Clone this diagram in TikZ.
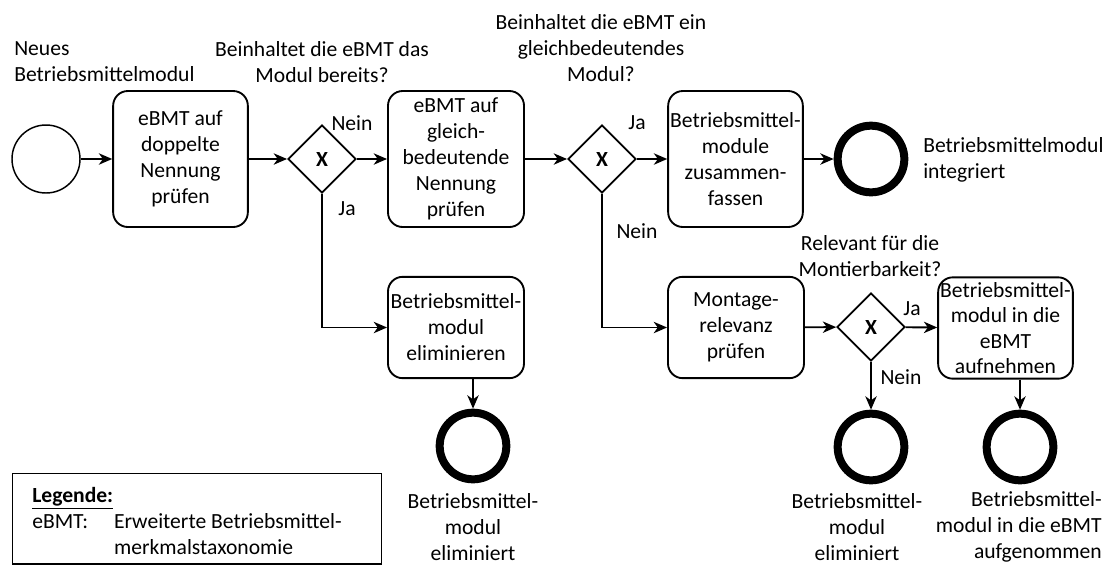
\documentclass[tikz,border=0pt]{standalone}
\usepackage{fontspec}
\setmainfont{Carlito}
\usetikzlibrary{shapes.geometric,arrows.meta}
\begin{document}
\begin{tikzpicture}[x=0.75pt,y=-0.75pt,
  every node/.style={font=\fontsize{16.2}{19.5}\selectfont},
  task/.style={draw,rounded corners=11pt,line width=1.4pt,align=center,inner sep=0pt},
  gate/.style={draw,diamond,line width=1.4pt,inner sep=0pt,minimum width=51pt,minimum height=51pt,font=\fontsize{16.2}{19.5}\selectfont\bfseries},
  startev/.style={draw,circle,line width=1.1pt,minimum size=51pt,inner sep=0pt},
  endev/.style={draw,circle,line width=6pt,minimum size=50pt,inner sep=0pt},
  flow/.style={line width=1.4pt,-{Stealth[length=10pt,width=8.5pt,inset=3pt]}},
  txt/.style={inner sep=0pt,align=center}]
\useasboundingbox (0,0) rectangle (1110,565);

% events, tasks and gateways
\node[startev] (start) at (46,159) {};
\node[task,minimum width=101pt,minimum height=102pt] (t1) at (180.5,159) {eBMT auf\\doppelte\\Nennung\\prüfen};
\node[gate] (g1) at (322,159) {X};
\node[task,minimum width=102pt,minimum height=102pt] (t2) at (456,159) {eBMT auf\\gleich-\\bedeutende\\Nennung\\prüfen};
\node[gate] (g2) at (602,159) {X};
\node[task,minimum width=101pt,minimum height=102pt] (t3) at (735.5,159) {Betriebsmittel-\\module\\zusammen-\\fassen};
\node[endev] (e1) at (871,159) {};

\node[task,minimum width=102pt,minimum height=76pt] (t4) at (456,327.5) {Betriebsmittel-\\modul\\eliminieren};
\node[endev] (e2) at (473,446) {};

\node[task,minimum width=102pt,minimum height=76pt] (t5) at (736,327.5) {Montage-\\relevanz\\prüfen};
\node[gate] (g3) at (871,327) {X};
\node[task,minimum width=101pt,minimum height=76pt,font=\fontsize{16.2}{19.2}\selectfont] (t6) at (1005.5,328) {Betriebsmittel-\\modul in die\\eBMT\\aufnehmen};
\node[endev] (e3) at (871,447) {};
\node[endev] (e4) at (1020,447) {};

% sequence flows
\draw[flow] (start) -- (t1);
\draw[flow] (t1) -- (g1);
\draw[flow] (g1) -- (t2);
\draw[flow] (t2) -- (g2);
\draw[flow] (g2) -- (t3);
\draw[flow] (t3) -- (e1);
\draw[flow] (g1.south) |- (t4.west);
\draw[flow] (t4.south -| e2) -- (e2);
\draw[flow] (g2.south) |- (t5.west);
\draw[flow] (t5) -- (g3);
\draw[flow] (g3) -- (t6);
\draw[flow] (g3) -- (e3);
\draw[flow] (t6.south -| e4) -- (e4);

% gateway labels
\node[txt] (n1) at (352,123) {Nein};
\node[txt] (j1) at (347,209) {Ja};
\node[txt] (j2) at (637,123) {Ja};
\node[txt] (n2) at (637,231) {Nein};
\node[txt] (j3) at (912,309) {Ja};
\node[txt] (n3) at (901,377) {Nein};

% annotations
\node[txt,align=left,anchor=west] (lstart) at (14,62) {Neues\\Betriebsmittelmodul};
\node[txt] (q1) at (322,62) {Beinhaltet die eBMT das\\Modul bereits?};
\node[txt] (q2) at (601,48) {Beinhaltet die eBMT ein\\gleichbedeutendes\\Modul?};
\node[txt] (q3) at (870,256) {Relevant für die\\Montierbarkeit?};
\node[txt,align=left,anchor=west] (le1) at (923,160) {Betriebsmittelmodul\\integriert};
\node[txt] (le2) at (473,527) {Betriebsmittel-\\modul\\eliminiert};
\node[txt] (le3) at (857,527) {Betriebsmittel-\\modul\\eliminiert};
\node[txt,align=right,anchor=east] (le4) at (1102,527) {Betriebsmittel-\\modul in die eBMT\\aufgenommen};

% legend
\node[draw,line width=1pt,minimum width=277pt,minimum height=68pt,inner sep=0pt] (legend) at (197,518.5) {};
\node[txt,align=left,anchor=north west] (legtext) at (32,487) {\textbf{\underline{Legende:}}\\
  eBMT:\hspace{1.2em}Erweiterte Betriebsmittel-\\
  \hphantom{eBMT:\hspace{1.2em}}merkmalstaxonomie};
\end{tikzpicture}
\end{document}
